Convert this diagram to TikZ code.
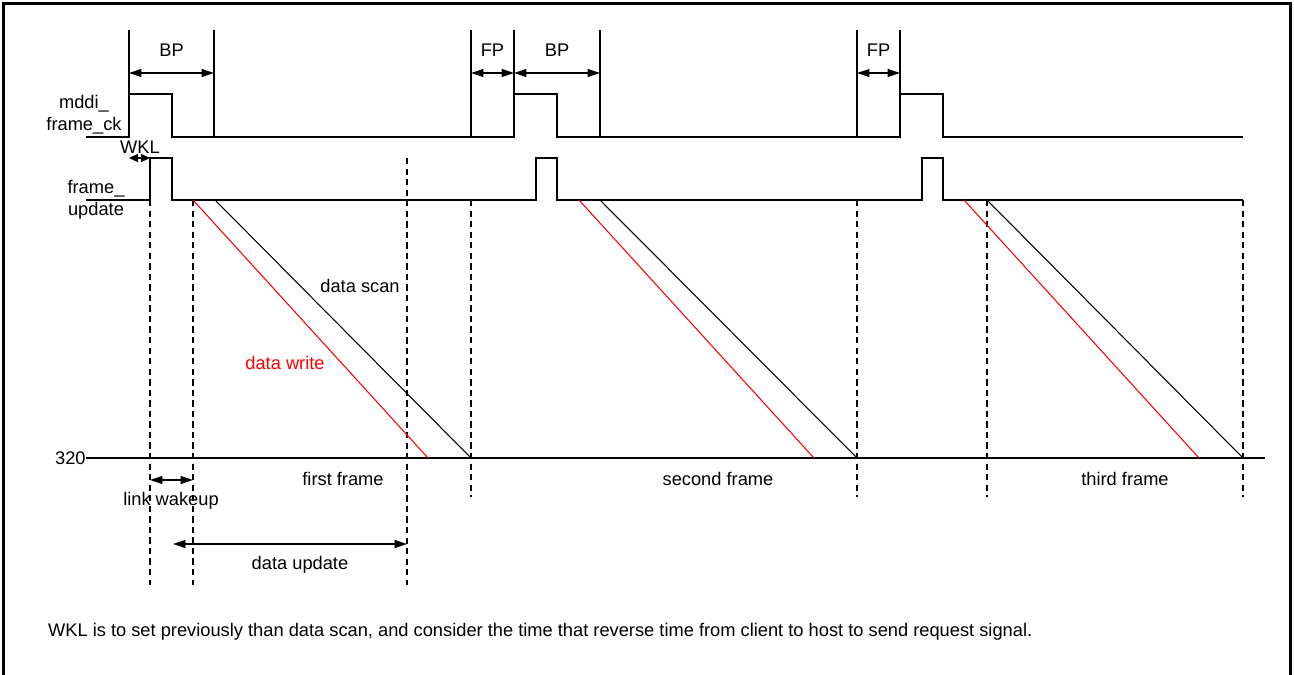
\documentclass[tikz,border=0pt]{standalone}
\usepackage{fontspec}
\setmainfont{Liberation Sans}
\usetikzlibrary{arrows.meta}

\begin{document}
\begin{tikzpicture}[
        x=0.02cm, y=-0.02cm,
        every node/.style={font=\fontsize{10.4}{12.5}\selectfont, inner sep=1pt},
        sig/.style={line width=0.7pt},
        guide/.style={dash pattern=on 3.6pt off 2.4pt, line width=0.6pt},
        dim/.style={{Triangle[length=7pt,width=4.5pt]}-{Triangle[length=7pt,width=4.5pt]}, line width=0.6pt},
        scan/.style={line width=0.6pt},
        wrt/.style={line width=0.6pt, red}
    ]
        \useasboundingbox (0,0) rectangle (1294,675);

        % Frame
        \draw[line width=1.7pt] (3.5,690) -- (3.5,3.5) -- (1290.5,3.5) -- (1290.5,690);

        % mddi_frame_ck
        \node[align=center] (ckname) at (84,115) {mddi\_\\frame\_ck};
        \draw[sig] (86,137) -- (129,137) -- (129,94) -- (172,94) -- (172,137) -- (514,137)
            -- (514,94) -- (557,94) -- (557,137) -- (900,137) -- (900,94) -- (943,94)
            -- (943,137) -- (1243,137);
        \foreach \x in {129,214,471,514,600,857,900}
            \draw[sig] (\x,30) -- (\x,137);

        % BP / FP
        \draw[dim] (129,73) -- node[above=8pt] (bp1) {BP} (214,73);
        \draw[dim] (471,73) -- node[above=8pt] (fp1) {FP} (514,73);
        \draw[dim] (514,73) -- node[above=8pt] (bp2) {BP} (600,73);
        \draw[dim] (857,73) -- node[above=8pt] (fp2) {FP} (900,73);

        % frame_update
        \node[align=center] (upname) at (96,200) {frame\_\\update};
        \draw[sig] (86,200) -- (150,200) -- (150,158) -- (172,158) -- (172,200) -- (536,200)
            -- (536,158) -- (557,158) -- (557,200) -- (922,200) -- (922,158) -- (943,158)
            -- (943,200) -- (1243,200);

        % WKL
        \draw[{Triangle[length=5pt,width=4.5pt]}-{Triangle[length=5pt,width=4.5pt]}, line width=0.6pt]
            (129,158) -- (150,158);
        \node (wkl) at (140,147) {WKL};

        % Guides
        \foreach \x in {150,193}
            \draw[guide] (\x,200) -- (\x,585);
        \draw[guide] (407,158) -- (407,585);
        \foreach \x in {471,857,987,1243}
            \draw[guide] (\x,200) -- (\x,497);

        % Line 320
        \draw[sig] (86,458) -- (1265,458);
        \node[anchor=east, inner sep=0pt] (lines) at (86,458) {320};

        % data write / data scan
        \draw[wrt] (193,200) -- (428,458);
        \draw[scan] (215,200) -- (471,458);
        \draw[wrt] (579,200) -- (814,458);
        \draw[scan] (600,200) -- (857,458);
        \draw[wrt] (964,200) -- (1199,458);
        \draw[scan] (987,200) -- (1243,458);
        \node (scanlbl) at (360,286) {data scan};
        \node[text=red] (writelbl) at (285,363) {data write};

        % Frames
        \node (first) at (343,479) {first frame};
        \node (second) at (718,479) {second frame};
        \node (third) at (1125,479) {third frame};

        % link wakeup / data update
        \draw[dim] (150,480) -- (193,480);
        \node (wakeup) at (171,501) {link wakeup};
        \draw[dim] (173,544) -- (407,544);
        \node (update) at (300,565) {data update};

        % Note
        \node[anchor=west] (note) at (46,632) {WKL is to set previously than data scan, and consider the time that reverse time from client to host to send request signal.};
    \end{tikzpicture}
\end{document}
